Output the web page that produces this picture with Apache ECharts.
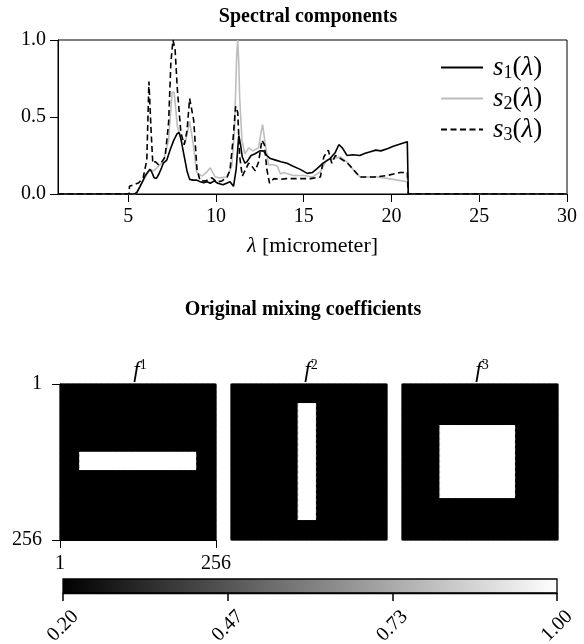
<!DOCTYPE html>
<html><head><meta charset="utf-8">
<script src="https://cdn.jsdelivr.net/npm/echarts@6/dist/echarts.min.js"></script>
<style>html,body{margin:0;padding:0;background:#fff}#c{width:584px;height:644px}</style>
</head><body><div id="c"></div>
<script>
// ---------- spectral components ----------
const s1X=[1,5.35,5.5,5.68,5.85,5.97,6.1,6.25,6.35,6.48,6.6,6.75,6.9,7.0,7.2,7.4,7.6,7.78,7.9,8.0,8.2,8.35,8.5,8.7,8.9,9.1,9.3,9.5,9.68,9.9,10.1,10.4,10.6,10.8,11.0,11.15,11.3,11.4,11.5,11.65,11.77,12.0,12.2,12.5,12.7,12.9,13.1,13.4,13.7,14.05,14.4,14.8,15.2,15.5,15.76,16.1,16.5,16.8,17.0,17.2,17.47,17.8,18.2,18.5,18.8,19.1,19.4,19.8,20.1,20.5,20.9,20.95,20.96,30];
const s1Y=[0,0,0.01,0.05,0.09,0.12,0.14,0.16,0.14,0.105,0.1,0.13,0.17,0.2,0.22,0.29,0.35,0.39,0.40,0.36,0.24,0.15,0.095,0.09,0.09,0.08,0.073,0.08,0.07,0.085,0.07,0.06,0.07,0.08,0.05,0.16,0.38,0.32,0.24,0.2,0.21,0.25,0.26,0.28,0.28,0.25,0.23,0.22,0.21,0.2,0.18,0.16,0.134,0.14,0.165,0.2,0.23,0.27,0.32,0.3,0.25,0.255,0.25,0.265,0.275,0.285,0.28,0.295,0.31,0.325,0.34,0.34,0,0];
const s2X=[1,5.4,5.68,5.97,6.2,6.45,6.73,7.0,7.3,7.5,7.62,7.8,8.06,8.25,8.5,8.7,8.9,9.2,9.45,9.68,9.96,10.2,10.63,10.9,11.06,11.18,11.24,11.3,11.35,11.48,11.65,11.86,12.1,12.43,12.57,12.66,12.8,13.0,13.3,13.5,13.67,13.85,14.4,15.0,15.5,15.95,16.3,16.7,17.1,17.45,17.8,18.2,19.2,20.1,20.9,20.95,20.96,30];
const s2Y=[0,0,0.05,0.105,0.16,0.15,0.18,0.21,0.35,0.66,0.66,0.44,0.33,0.33,0.47,0.33,0.14,0.116,0.14,0.17,0.11,0.105,0.11,0.18,0.42,0.9,1.0,0.85,0.63,0.35,0.26,0.3,0.28,0.3,0.4,0.45,0.33,0.19,0.19,0.18,0.13,0.14,0.12,0.12,0.11,0.145,0.22,0.23,0.24,0.21,0.16,0.11,0.11,0.095,0.08,0.08,0,0];
const s3X=[1,5.05,5.07,5.3,5.6,5.85,6.06,6.18,6.3,6.4,6.54,6.73,6.92,7.1,7.3,7.43,7.55,7.67,7.8,8.0,8.19,8.35,8.5,8.6,8.73,8.92,9.1,9.4,9.77,10.06,10.34,10.63,10.8,10.97,11.12,11.24,11.35,11.5,11.67,11.86,12.05,12.24,12.43,12.62,12.76,12.9,13.05,13.3,13.67,14.0,14.5,15.4,15.95,16.14,16.4,16.6,16.8,17.1,17.5,17.9,18.2,19.0,19.75,20.5,20.9,20.95,20.96,30];
const s3Y=[0,0,0.05,0.06,0.073,0.105,0.22,0.73,0.42,0.2,0.21,0.19,0.21,0.24,0.46,0.85,1.0,0.94,0.68,0.4,0.32,0.41,0.62,0.63,0.48,0.16,0.084,0.085,0.105,0.078,0.085,0.11,0.155,0.35,0.57,0.53,0.245,0.116,0.155,0.2,0.18,0.15,0.21,0.35,0.32,0.16,0.07,0.1,0.095,0.1,0.1,0.1,0.11,0.24,0.285,0.2,0.25,0.23,0.2,0.15,0.11,0.11,0.12,0.14,0.14,0.14,0,0];
const seriesNames=['s1','s2','s3'];
const xTicks=[5,10,15,20,25,30];
const yTicks=[0,0.5,1];

// ---------- mixing coefficients (256x256 masks, rectangles in pixel units) ----------
const imgTicks=[1,256];
const f1Rect=[113,143,32,224]; // rowStart,rowEnd,colStart,colEnd
const f2Rect=[32,224,110,141];
const f3Rect=[69,188,63,186];
const bgValue=0.2, fgValue=1.0;
const cmin=0.2, cmax=1.0;
const cbarTicks=[0.2,0.4667,0.7333,1.0];
const cbarLabels=['0.20','0.47','0.73','1.00'];

const FONT='Liberation Serif';
const N=128, CELL=256/N;
function maskData(rect){
  const d=[];
  for(let r=0;r<N;r++)for(let c=0;c<N;c++){
    const pr=(r+0.5)*CELL, pc=(c+0.5)*CELL;
    const inside=pr>=rect[0]&&pr<rect[1]&&pc>=rect[2]&&pc<rect[3];
    d.push([c,r,inside?fgValue:bgValue]);
  }
  return d;
}
const cats=[];for(let i=0;i<N;i++)cats.push(String(i));
const pairs=(X,Y)=>X.map((x,i)=>[x,Y[i]]);
function renderCell(params,api){
  const p=api.coord([api.value(0),api.value(1)]);
  const s=api.size([1,1]);
  return {type:'rect',silent:true,
    shape:{x:p[0]-s[0]/2-0.4,y:p[1]-s[1]/2-0.4,width:s[0]+0.8,height:s[1]+0.8},
    style:{fill:api.visual('color')}};
}

const tickLbl={fontFamily:FONT,fontSize:20,color:'#000'};
const blackLine={show:true,lineStyle:{color:'#000',width:1}};
const panels=[{left:60,width:156},{left:231,width:156},{left:402,width:156}];
const grayRamp={type:'linear',x:0,y:0,x2:1,y2:0,colorStops:[{offset:0,color:'#000000'},{offset:1,color:'#ffffff'}]};
const G={outerBoundsMode:'none',containLabel:false};

const option={
  animation:false,
  backgroundColor:'#fff',
  graphic:[
    {type:'text',x:308,y:17,style:{text:'Spectral components',font:'bold 20px "Liberation Serif"',fill:'#000',align:'center',verticalAlign:'middle'}},
    {type:'text',x:303,y:310,style:{text:'Original mixing coefficients',font:'bold 20px "Liberation Serif"',fill:'#000',align:'center',verticalAlign:'middle'}},
  ].concat([0,1,2].map(i=>({type:'text',x:panels[i].left+panels[i].width/2+2,y:371,style:{
    text:'{i|f}{sup|'+(i+1)+'}',align:'center',verticalAlign:'middle',fill:'#000',
    rich:{i:{fontFamily:FONT,fontStyle:'italic',fontSize:23,fill:'#000',lineHeight:26},sup:{fontFamily:FONT,fontSize:14,fill:'#000',verticalAlign:'top',lineHeight:14}}
  }}))),
  legend:{
    data:seriesNames,orient:'vertical',left:440,top:53,padding:0,itemWidth:42,itemHeight:2,itemGap:2,
    selectedMode:false,itemStyle:{opacity:0,color:'rgba(0,0,0,0)',borderWidth:0},
    formatter:n=>'{i|s}{sub|'+n.slice(1)+'}{n|(}{i|λ}{n|)}',
    textStyle:{fontFamily:FONT,fontSize:27,color:'#000',lineHeight:29,padding:[0,0,0,5],
      rich:{i:{fontFamily:FONT,fontStyle:'italic',fontSize:27,lineHeight:29},n:{fontFamily:FONT,fontSize:27,lineHeight:29},sub:{fontFamily:FONT,fontSize:18,lineHeight:17,verticalAlign:'bottom'}}}
  },
  grid:[
    Object.assign({left:58,right:17,top:40,height:154,show:true,borderColor:'#000',borderWidth:1},G),
    Object.assign({left:panels[0].left,width:panels[0].width,top:384,height:156,show:true,backgroundColor:'#000',borderColor:'#888',borderWidth:1},G),
    Object.assign({left:panels[1].left,width:panels[1].width,top:384,height:156,show:true,backgroundColor:'#000',borderColor:'#888',borderWidth:1},G),
    Object.assign({left:panels[2].left,width:panels[2].width,top:384,height:156,show:true,backgroundColor:'#000',borderColor:'#888',borderWidth:1},G),
    Object.assign({left:63,width:494,top:579,height:14,show:true,backgroundColor:grayRamp,borderColor:'#000',borderWidth:1.3},G)
  ],
  xAxis:[
    {gridIndex:0,type:'value',min:1,max:30,axisLine:blackLine,splitLine:{show:false},
      axisTick:{show:true,inside:false,length:8,lineStyle:{color:'#000'},customValues:xTicks},
      axisLabel:Object.assign({margin:13,customValues:xTicks},tickLbl),
      name:'{i|λ} [micrometer]',nameLocation:'middle',nameGap:41,
      nameTextStyle:{fontFamily:FONT,fontSize:22,color:'#000',rich:{i:{fontFamily:FONT,fontStyle:'italic',fontSize:22}}}},
    {gridIndex:1,type:'category',data:cats,position:'top',show:false},
    {gridIndex:1,type:'value',min:1,max:256,position:'bottom',z:10,axisLine:blackLine,splitLine:{show:false},
      axisTick:{show:true,inside:false,length:8,lineStyle:{color:'#000'},customValues:imgTicks},
      axisLabel:Object.assign({margin:14,customValues:imgTicks},tickLbl)},
    {gridIndex:2,type:'category',data:cats,show:false},
    {gridIndex:3,type:'category',data:cats,show:false},
    {gridIndex:4,type:'value',min:cmin,max:cmax,position:'bottom',axisLine:{show:true,onZero:false,lineStyle:{color:'#000',width:1.3}},splitLine:{show:false},
      axisTick:{show:true,inside:false,length:8,lineStyle:{color:'#000',width:1.5},customValues:cbarTicks},
      axisLabel:Object.assign({margin:33,rotate:45,align:'center',verticalAlign:'middle',customValues:cbarTicks,
        formatter:v=>{const k=cbarTicks.findIndex(t=>Math.abs(t-v)<1e-3);return k>=0?cbarLabels[k]:'';}},tickLbl)}
  ],
  yAxis:[
    {gridIndex:0,type:'value',min:0,max:1,interval:0.5,axisLine:blackLine,splitLine:{show:false},
      axisTick:{show:true,inside:false,length:8,lineStyle:{color:'#000'}},
      axisLabel:Object.assign({margin:12,formatter:v=>v.toFixed(1)},tickLbl)},
    {gridIndex:1,type:'category',data:cats,inverse:true,position:'right',show:false},
    {gridIndex:1,type:'value',min:1,max:256,inverse:true,position:'left',z:10,axisLine:blackLine,splitLine:{show:false},
      axisTick:{show:true,inside:false,length:8,lineStyle:{color:'#000'},customValues:imgTicks},
      axisLabel:Object.assign({margin:18,customValues:imgTicks},tickLbl)},
    {gridIndex:2,type:'category',data:cats,inverse:true,show:false},
    {gridIndex:3,type:'category',data:cats,inverse:true,show:false},
    {gridIndex:4,type:'category',data:['c'],show:false}
  ],
  visualMap:{type:'continuous',show:false,min:cmin,max:cmax,dimension:2,seriesIndex:[3,4,5],
    inRange:{color:['#000000','#ffffff']}},
  series:[
    {name:'s1',type:'line',xAxisIndex:0,yAxisIndex:0,data:pairs(s1X,s1Y),symbol:'none',lineStyle:{color:'#000',width:1.6},itemStyle:{color:'#000'},z:3},
    {name:'s2',type:'line',xAxisIndex:0,yAxisIndex:0,data:pairs(s2X,s2Y),symbol:'none',lineStyle:{color:'#bdbdbd',width:1.6},itemStyle:{color:'#bdbdbd'},z:2},
    {name:'s3',type:'line',xAxisIndex:0,yAxisIndex:0,data:pairs(s3X,s3Y),symbol:'none',lineStyle:{color:'#000',width:1.6,type:[6,3.5]},itemStyle:{color:'#000'},z:4},
    {type:'custom',xAxisIndex:1,yAxisIndex:1,data:maskData(f1Rect),renderItem:renderCell,encode:{x:0,y:1},progressive:0,silent:true},
    {type:'custom',xAxisIndex:3,yAxisIndex:3,data:maskData(f2Rect),renderItem:renderCell,encode:{x:0,y:1},progressive:0,silent:true},
    {type:'custom',xAxisIndex:4,yAxisIndex:4,data:maskData(f3Rect),renderItem:renderCell,encode:{x:0,y:1},progressive:0,silent:true}
  ]
};
const chart=echarts.init(document.getElementById('c'),null,{renderer:'canvas'});
chart.setOption(option);
</script></body></html>
